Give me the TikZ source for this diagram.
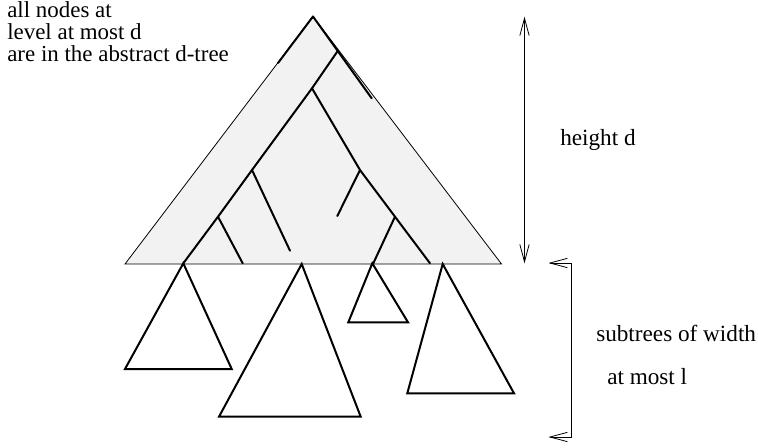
\documentclass[tikz,border=0pt]{standalone}
\usepackage{fontspec}
\setmainfont{Liberation Serif}
\usetikzlibrary{arrows.meta}
\definecolor{treefill}{HTML}{F2F2F2}
\tikzset{
  thickline/.style={line width=1.5pt, line cap=round, line join=round},
  subtree/.style={line width=1.5pt, line join=miter},
  outline/.style={line width=0.6pt, fill=treefill},
  dimarrow/.style={line width=0.6pt, {Straight Barb[length=13pt,width=7pt,line width=0.6pt]}-{Straight Barb[length=13pt,width=7pt,line width=0.6pt]}},
  label/.style={font=\fontsize{17.4}{17.4}\selectfont, inner sep=0pt, anchor=base west},
  biglabel/.style={font=\fontsize{17.2}{16.5}\selectfont, inner sep=0pt, anchor=north west, align=left},
}
\begin{document}
\begin{tikzpicture}[x=0.75pt,y=-0.75pt]
\useasboundingbox (0,0) rectangle (758,447);
% abstract d-tree outline
\coordinate (apex) at (313,16.5);
\coordinate (bl) at (125,264);
\coordinate (br) at (501.5,264);
\draw[outline] (apex) -- (bl) -- (br) -- cycle;
% tree edges
\coordinate (le) at (278,63);
\coordinate (rc) at (371.7,98.3);
\coordinate (b1) at (337.7,51);
\coordinate (b2) at (312,88.3);
\coordinate (b3) at (252,170);
\coordinate (b4) at (218,216.7);
\coordinate (l1) at (183.3,263.3);
\coordinate (b5) at (360,170);
\coordinate (b6) at (395,216.7);
\coordinate (l2) at (430,263.3);
\coordinate (l3) at (373.3,263.3);
\coordinate (e5) at (337.3,216);
\coordinate (e3) at (290,250.7);
\coordinate (e4) at (242.7,263.3);
\draw[thickline] (apex) -- (le);
\draw[thickline] (apex) -- (rc);
\draw[thickline] (b1) -- (b2) -- (b3) -- (b4) -- (l1);
\draw[thickline] (b2) -- (b5) -- (b6) -- (l2);
\draw[thickline] (b5) -- (e5);
\draw[thickline] (b6) -- (l3);
\draw[thickline] (b3) -- (e3);
\draw[thickline] (b4) -- (e4);
% subtrees
\draw[subtree] (183.3,263.3) -- (125,369) -- (231.7,369) -- cycle;
\draw[subtree] (301.7,264) -- (219,416.7) -- (360.7,416.7) -- cycle;
\draw[subtree] (372.3,263.3) -- (348.3,322.3) -- (408,322.3) -- cycle;
\draw[subtree] (442.7,264) -- (407.3,393.3) -- (514,393.3) -- cycle;
% height arrow
\coordinate (ht) at (524.5,16.7);
\coordinate (hb) at (524.5,263.3);
\draw[dimarrow] (ht) -- (hb);
% bracket
\coordinate (kt) at (548.5,263);
\coordinate (kt2) at (571.7,263);
\coordinate (kb2) at (571.7,437);
\coordinate (kb) at (548.5,437);
\draw[dimarrow, line join=miter] (kt) -- (kt2) -- (kb2) -- (kb);
% labels
\node[biglabel] (t1) at (7,1.2) {all nodes at\\level at most d\\are in the abstract d-tree};
\node[label] (h) at (560,145) {height d};
\node[label] (s1) at (596,341) {subtrees of width};
\node[label] (s2) at (607,384) {at most l};
\end{tikzpicture}
\end{document}
